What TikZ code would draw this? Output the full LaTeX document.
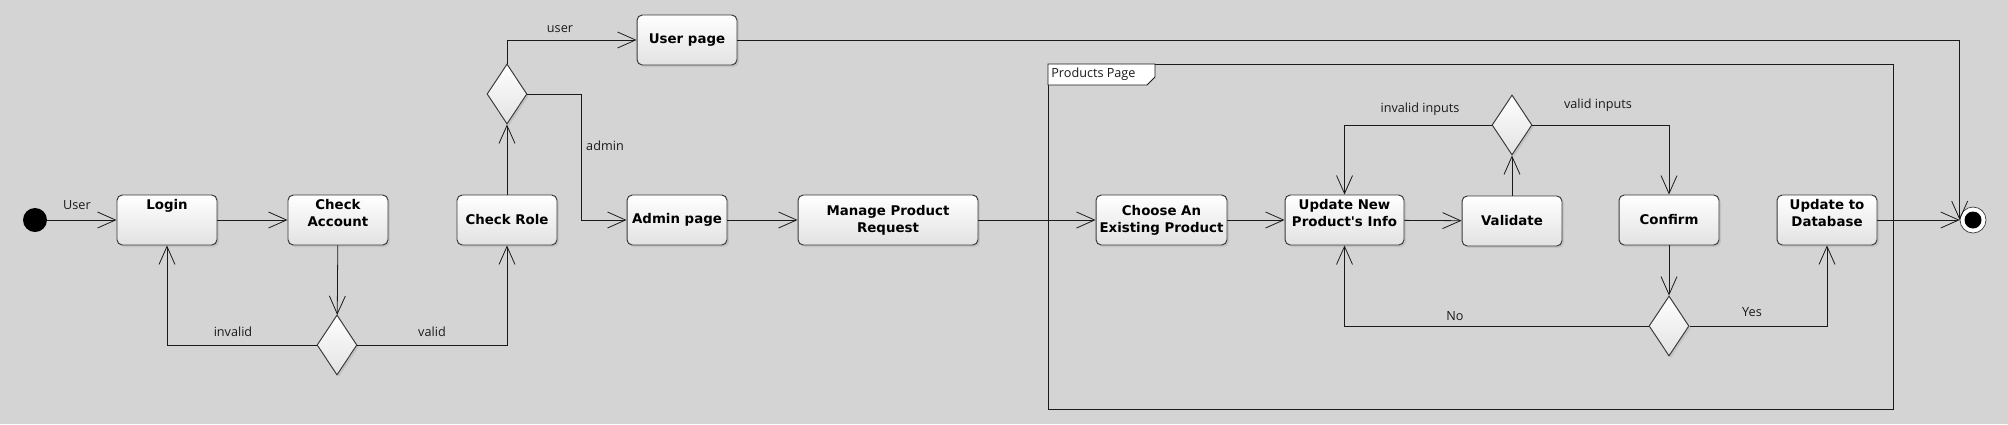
\documentclass[tikz,border=0pt]{standalone}
\usepackage{fontspec}
\usepackage{tikz}
\usetikzlibrary{arrows.meta,shapes.geometric,shadows}
\newfontfamily\boxfont{DejaVu Sans}
\newfontfamily\labelfont{Open Sans}
\definecolor{Canvas}{HTML}{D4D4D4}
\definecolor{Edge}{HTML}{1A1A1A}
\definecolor{Frame}{HTML}{3A3A3A}
\definecolor{Fade}{HTML}{E2E2E2}

\begin{document}
\begin{tikzpicture}[x=0.02cm,y=-0.02cm,
    act/.style={draw=Frame,line width=0.55pt,rounded corners=3pt,top color=white,
      bottom color=Fade,minimum width=2cm,minimum height=1cm,align=center,
      inner sep=2pt,font=\boxfont\bfseries\fontsize{7.6}{9.6}\selectfont,
      drop shadow={shadow xshift=0.4mm,shadow yshift=-0.4mm,opacity=0.2}},
    upper/.style={text height=12pt,text depth=4.4pt},
    raised/.style={text height=5pt,text depth=16.6pt},
    choice/.style={diamond,draw=Frame,line width=0.55pt,top color=white,
      bottom color=Fade,inner sep=0pt,minimum width=0.8cm,minimum height=1.2cm,
      drop shadow={shadow xshift=0.4mm,shadow yshift=-0.4mm,opacity=0.2}},
    start/.style={circle,fill=black,minimum size=0.48cm,inner sep=0pt},
    stop/.style={circle,draw=Frame,fill=white,minimum size=0.52cm,inner sep=0pt,
      path picture={\fill[black] (path picture bounding box.center) circle (0.17cm);}},
    arr/.style={draw=Edge,line width=0.45pt,-{Straight Barb[length=3.6mm,width=3.2mm]}},
    lbl/.style={font=\labelfont\fontsize{7.2}{8.6}\selectfont,text=Edge,inner sep=0pt}
  ]
  \fill[Canvas] (0,0) rectangle (2008,424);
  \useasboundingbox (0,0) rectangle (2008,424);

  % products page frame
  \draw[Edge,line width=0.45pt] (1048,64) rectangle (1893,409);
  \draw[Edge,line width=0.45pt,fill=white] (1048,64) -- (1155,64) -- (1155,77)
    -- (1147,85) -- (1048,85) -- cycle;
  \node[lbl,anchor=west] (frametitle) at (1051,74) {Products Page};

  % actions
  \node[start] (init) at (35,220) {};
  \node[act,raised] (login) at (167,220) {Login};
  \node[act,upper] (account) at (338,220) {Check\\Account};
  \node[choice] (valid) at (337,345) {};
  \node[act] (role) at (507,220) {Check Role};
  \node[choice] (which) at (507,94) {};
  \node[act] (user) at (687,40) {User page};
  \node[act] (admin) at (677,220) {Admin page};
  \node[act,minimum width=3.6cm] (manage) at (888,220) {Manage Product\\Request};
  \node[act,minimum width=2.62cm] (choose) at (1161.5,220) {Choose An\\Existing Product};
  \node[act,upper,minimum width=2.38cm] (update) at (1344.5,220) {Update New\\Product's Info};
  \node[act] (check) at (1512,221) {Validate};
  \node[choice] (inputs) at (1512,125) {};
  \node[act] (confirm) at (1669,220) {Confirm};
  \node[choice] (answer) at (1669,326) {};
  \node[act,upper] (store) at (1827,220) {Update to\\Database};
  \node[stop] (final) at (1973,220) {};

  % flows
  \draw[arr] (init) -- (login);
  \draw[arr] (login) -- (account);
  \draw[arr] (account) -- (valid);
  \draw[arr] (valid.west) -| (login.south);
  \draw[arr] (valid.east) -| (role.south);
  \draw[arr] (role) -- (which);
  \draw[arr] (which.north) |- (user.west);
  \draw[arr] (which.east) -- ++(54,0) |- (admin.west);
  \draw[arr] (admin) -- (manage);
  \draw[arr] (manage) -- (choose);
  \draw[arr] (choose) -- (update);
  \draw[arr] (update) -- (check);
  \draw[arr] (check) -- (inputs);
  \draw[arr] (inputs.west) -| (update.north);
  \draw[arr] (inputs.east) -| (confirm.north);
  \draw[arr] (confirm) -- (answer);
  \draw[arr] (answer.west) -| (update.south);
  \draw[arr] (answer.east) -| (store.south);
  \draw[arr] (store) -- (final);
  \draw[arr] (user.east) -| (final.west);

  % guards
  \node[lbl] (tuser) at (77,205) {User};
  \node[lbl] (tinvalid) at (233,332) {invalid};
  \node[lbl] (tvalid) at (432,332) {valid};
  \node[lbl] (tpage) at (560,29) {user};
  \node[lbl] (tadmin) at (605,146) {admin};
  \node[lbl] (tbad) at (1420,109) {invalid inputs};
  \node[lbl] (tgood) at (1598,105) {valid inputs};
  \node[lbl] (tno) at (1455,316) {No};
  \node[lbl] (tyes) at (1752,312) {Yes};
\end{tikzpicture}
\end{document}
